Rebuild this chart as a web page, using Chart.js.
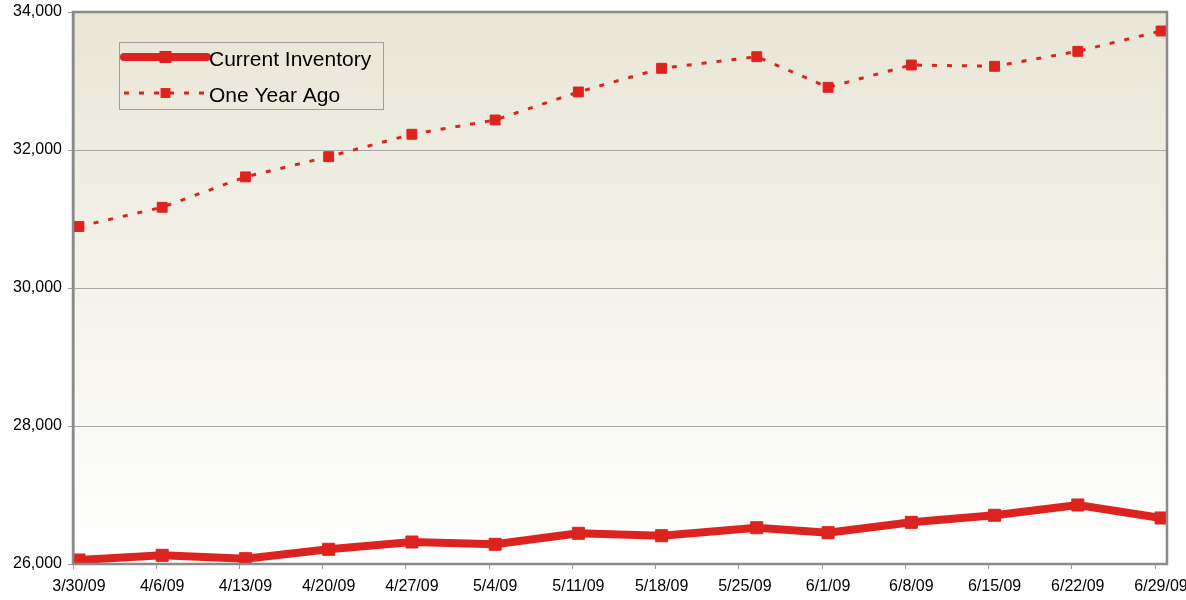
<!DOCTYPE html>
<html>
<head>
<meta charset="utf-8">
<script src="https://cdn.jsdelivr.net/npm/chart.js@4.4.1/dist/chart.umd.min.js"></script>
<style>
    body { margin: 0; background: #fff; }
    #wrap { width: 1186px; height: 600px; position: relative; }
</style>
</head>
<body>
<div id="wrap"><canvas id="myChart"></canvas></div>
<script>
// dates of the weekly readings (the Memorial Day week was read on Tuesday)
const dates = ['3/30/09', '4/6/09', '4/13/09', '4/20/09', '4/27/09', '5/4/09', '5/11/09',
    '5/18/09', '5/26/09', '6/1/09', '6/8/09', '6/15/09', '6/22/09', '6/29/09'];
const currentInventory = [26058, 26126, 26077, 26213, 26319, 26286, 26445,
    26410, 26526, 26454, 26604, 26706, 26855, 26667];
const oneYearAgo = [30891, 31170, 31610, 31903, 32228, 32435, 32841,
    33184, 33352, 32909, 33232, 33213, 33430, 33725];
const tickLabels = ['3/30/09', '4/6/09', '4/13/09', '4/20/09', '4/27/09', '5/4/09', '5/11/09',
    '5/18/09', '5/25/09', '6/1/09', '6/8/09', '6/15/09', '6/22/09', '6/29/09'];
const yTicks = [26000, 28000, 30000, 32000, 34000];

const red = 'rgb(221, 35, 31)';

// days since the first date
function dayOf(s) {
    const p = s.split('/');
    return Date.UTC(2000 + Number(p[2]), Number(p[0]) - 1, Number(p[1])) / 86400000;
}
const day0 = dayOf(dates[0]);
const xs = dates.map(d => dayOf(d) - day0);
const lastDay = dayOf(tickLabels[tickLabels.length - 1]) - day0;

Chart.defaults.font.family = '"Liberation Sans", Arial, sans-serif';
Chart.defaults.font.size = 16;
Chart.defaults.color = '#000';

// background gradient, frame and the boxed legend inside the plot
const plotDecor = {
    id: 'plotDecor',
    beforeDraw(chart) {
        const { ctx, chartArea: a } = chart;
        const g = ctx.createLinearGradient(0, a.top, 0, a.bottom);
        g.addColorStop(0, '#e9e6d6');
        g.addColorStop(1, '#ffffff');
        ctx.save();
        ctx.fillStyle = g;
        ctx.fillRect(a.left, a.top, a.right - a.left, a.bottom - a.top);
        ctx.restore();
    },
    afterDraw(chart) {
        const { ctx, chartArea: a } = chart;
        ctx.save();
        ctx.strokeStyle = '#8a8a8a';
        ctx.lineWidth = 2.5;
        ctx.strokeRect(a.left, a.top, a.right - a.left, a.bottom - a.top);

        // legend
        const bx = a.left + 46, by = a.top + 30, bw = 264, bh = 67;
        ctx.strokeStyle = '#a0a0a0';
        ctx.lineWidth = 1;
        ctx.strokeRect(bx + 0.5, by + 0.5, bw, bh);
        const rows = [by + 15, by + 51];
        chart.data.datasets.forEach((ds, i) => {
            const y = rows[i];
            const x1 = bx + 5, x2 = bx + 88, xm = (x1 + x2) / 2;
            ctx.strokeStyle = ds.borderColor;
            ctx.lineWidth = ds.borderWidth;
            ctx.lineCap = ds.borderDash ? 'butt' : 'round';
            ctx.setLineDash(ds.borderDash || []);
            ctx.beginPath();
            ctx.moveTo(x1, y);
            ctx.lineTo(x2, y);
            ctx.stroke();
            ctx.setLineDash([]);
            const s = ds.pointRadius * Math.SQRT1_2;
            ctx.fillStyle = ds.pointBackgroundColor;
            ctx.fillRect(xm - s, y - s, 2 * s, 2 * s);
            ctx.fillStyle = '#000';
            ctx.font = '21px "Liberation Sans", Arial, sans-serif';
            ctx.textBaseline = 'middle';
            ctx.fillText(ds.label, x2 + 2, y + 3);
        });
        ctx.restore();
    }
};

const ctx = document.getElementById('myChart').getContext('2d');
const myChart = new Chart(ctx, {
    type: 'line',
    data: {
        datasets: [
            {
                label: 'Current Inventory',
                data: xs.map((x, i) => ({ x: x, y: currentInventory[i] })),
                borderColor: red,
                borderWidth: 8,
                pointStyle: 'rect',
                pointRadius: 8.5,
                pointBorderWidth: 1,
                pointBackgroundColor: red,
                pointBorderColor: red
            },
            {
                label: 'One Year Ago',
                data: xs.map((x, i) => ({ x: x, y: oneYearAgo[i] })),
                borderColor: red,
                borderWidth: 3,
                borderDash: [5, 10],
                pointStyle: 'rect',
                pointRadius: 7,
                pointBorderWidth: 1,
                pointBackgroundColor: red,
                pointBorderColor: red
            }
        ]
    },
    options: {
        responsive: true,
        maintainAspectRatio: false,
        animation: false,
        layout: { padding: { top: 12, right: 19, left: 0, bottom: 0 } },
        plugins: {
            legend: { display: false },
            tooltip: { enabled: false }
        },
        scales: {
            x: {
                type: 'linear',
                min: -0.5,
                max: lastDay + 0.5,
                afterBuildTicks: s => {
                    const t = [];
                    tickLabels.forEach((lab, i) => {
                        t.push({ value: i * 7 - 0.5 });
                        t.push({ value: i * 7 });
                    });
                    s.ticks = t;
                },
                afterFit: s => {
                    s.height = 36;
                    s.paddingLeft = 0;
                    s.paddingRight = 0;
                },
                ticks: {
                    autoSkip: false,
                    maxRotation: 0,
                    padding: 8,
                    callback: v => Number.isInteger(v) ? tickLabels[v / 7] : ''
                },
                grid: {
                    drawOnChartArea: false,
                    tickLength: 5,
                    tickColor: c => Number.isInteger(c.tick.value) ? 'rgba(0,0,0,0)' : '#999'
                },
                border: { color: '#8a8a8a', width: 2 }
            },
            y: {
                min: yTicks[0],
                max: yTicks[yTicks.length - 1],
                afterBuildTicks: s => { s.ticks = yTicks.map(v => ({ value: v })); },
                afterFit: s => {
                    s.width = 73;
                    s.paddingTop = 0;
                    s.paddingBottom = 0;
                },
                ticks: { padding: 6 },
                grid: { color: '#a8a8a8', tickLength: 5, tickColor: '#999' },
                border: { color: '#8a8a8a', width: 2.5 }
            }
        }
    },
    plugins: [plotDecor]
});
</script>
</body>
</html>
